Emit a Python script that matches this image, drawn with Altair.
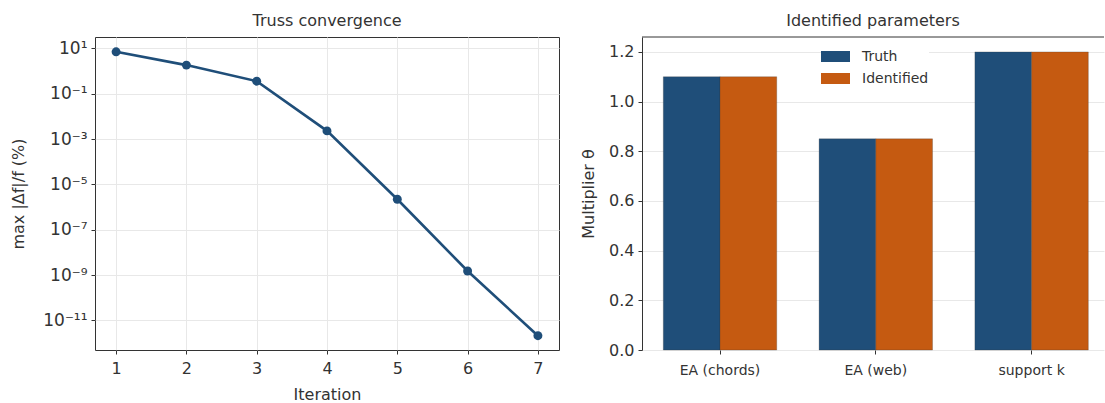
import altair as alt
import pandas as pd

# ---- data -------------------------------------------------------------
iterations = [1, 2, 3, 4, 5, 6, 7]
max_rel_change_pct = [7.1, 1.84, 0.36, 2.3e-3, 2.2e-6, 1.5e-9, 2.1e-12]
y_tick_values = [1e1, 1e-1, 1e-3, 1e-5, 1e-7, 1e-9, 1e-11]

parameters = ["EA (chords)", "EA (web)", "support k"]
truth = [1.10, 0.85, 1.20]
identified = [1.10, 0.85, 1.20]
series = ["Truth", "Identified"]
series_colors = ["#1f4e79", "#c55a11"]
theta_ticks = [0.0, 0.2, 0.4, 0.6, 0.8, 1.0, 1.2]

FONT = "DejaVu Sans"
INK = "#333333"
GRID = "#e8e8e8"
LINE_BLUE = "#1f4e79"

conv = pd.DataFrame({"Iteration": iterations, "err": max_rel_change_pct})

rows = []
for p, t, i in zip(parameters, truth, identified):
    rows.append({"param": p, "series": "Truth", "value": t})
    rows.append({"param": p, "series": "Identified", "value": i})
params_df = pd.DataFrame(rows)

sup_expr = (
    "'10' + ['\u00b9','\u207b\u00b9','\u207b\u00b3','\u207b\u2075','\u207b\u2077','\u207b\u2079','\u207b\u00b9\u00b9']"
    "[indexof([1,-1,-3,-5,-7,-9,-11], round(log(datum.value)/LN10))]"
)

x_conv = alt.X(
    "Iteration:Q",
    scale=alt.Scale(domain=[0.7, 7.3], nice=False, zero=False),
    axis=alt.Axis(values=iterations, format="d", title="Iteration", labelPadding=6, titlePadding=10),
)
y_conv = alt.Y(
    "err:Q",
    scale=alt.Scale(type="log", domain=[4.9e-13, 32], nice=False),
    axis=alt.Axis(values=y_tick_values, labelExpr=sup_expr, title="max |\u0394f|/f  (%)",
                  labelFontSize=17, titlePadding=16),
)

conv_line = alt.Chart(conv).mark_line(color=LINE_BLUE, strokeWidth=2.6).encode(x=x_conv, y=y_conv)
conv_pts = alt.Chart(conv).mark_point(filled=True, size=80, color=LINE_BLUE, opacity=1).encode(x=x_conv, y=y_conv)

left = alt.layer(conv_line, conv_pts).properties(
    width=464,
    height=313,
    title=alt.TitleParams("Truss convergence", fontSize=16, font=FONT, color=INK, fontWeight="normal", offset=8),
    view=alt.ViewBackground(stroke=INK, strokeWidth=1),
)

bars = alt.Chart(params_df).mark_bar(stroke="#333333", strokeWidth=0.5, strokeOpacity=0.5).encode(
    x=alt.X(
        "param:N",
        sort=parameters,
        scale=alt.Scale(paddingInner=0.272, paddingOuter=0.1187, align=0.576),
        axis=alt.Axis(title=None, labelAngle=0, labelFontSize=14, grid=False, labelPadding=9),
    ),
    xOffset=alt.XOffset("series:N", sort=series, scale=alt.Scale(domain=series, paddingInner=0, paddingOuter=0)),
    y=alt.Y(
        "value:Q",
        scale=alt.Scale(domain=[0, 1.26], nice=False),
        axis=alt.Axis(values=theta_ticks, format=".1f", title="Multiplier  \u03b8", domain=True, titlePadding=12),
    ),
    color=alt.Color(
        "series:N",
        sort=series,
        scale=alt.Scale(domain=series, range=series_colors),
        legend=alt.Legend(
            title=None,
            orient="none",
            legendX=726,
            legendY=5,
            symbolType="M-1,-0.38H1V0.38H-1Z",
            symbolSize=841,
            symbolStrokeWidth=0,
            labelFontSize=14,
            labelFont=FONT,
            labelColor=INK,
            labelOffset=12,
            rowPadding=0,
            padding=0,
            fillColor="white",
        ),
    ),
)

top_border = alt.Chart(pd.DataFrame({"k": [0]})).mark_rule(color=INK, strokeWidth=1).encode(
    x=alt.value(0), x2=alt.value(462), y=alt.value(0)
)

right = alt.layer(bars, top_border).properties(
    width=462,
    height=313,
    title=alt.TitleParams("Identified parameters", fontSize=16, font=FONT, color=INK, fontWeight="normal", offset=8),
    view=alt.ViewBackground(stroke="transparent"),
)

chart = (
    alt.hconcat(left, right, spacing=20)
    .properties(padding={"left": 10, "top": 12, "right": 0, "bottom": 0})
    .configure(font=FONT)
    .configure_view(stroke=INK)
    .configure_axis(
        labelFont=FONT,
        titleFont=FONT,
        labelFontSize=16,
        titleFontSize=16,
        titleFontWeight="normal",
        labelColor=INK,
        titleColor=INK,
        tickColor=INK,
        tickSize=4,
        labelPadding=4,
        titlePadding=6,
        domainColor=INK,
        gridColor=GRID,
        gridWidth=1,
    )
    .configure_axisX(domain=False)
    .configure_axisY(domain=False)
)

chart.save("out.html", embed_options={"renderer": "svg", "actions": False})
